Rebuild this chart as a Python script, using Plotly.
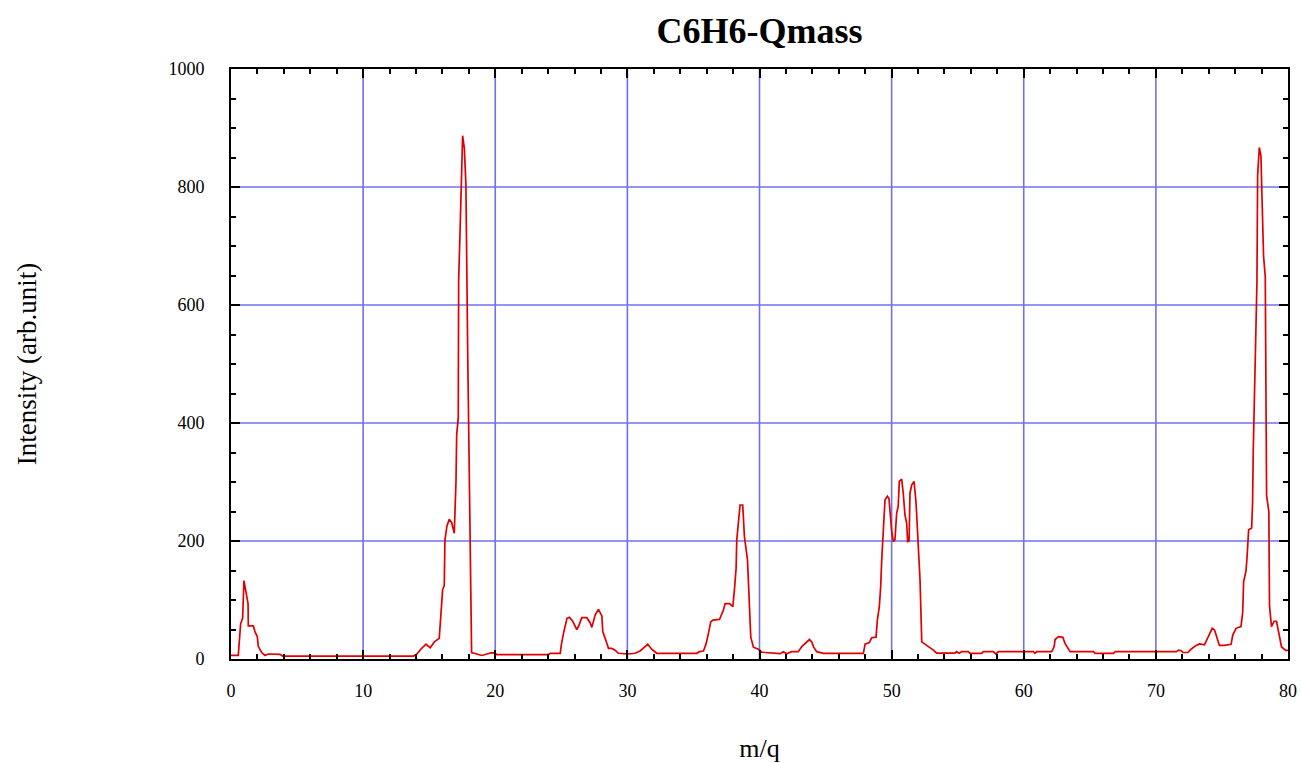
import plotly.graph_objects as go

# m/q values (x) and intensities (arb. unit)
mz = [
    0.0, 0.55, 0.73, 0.88, 0.98, 1.13, 1.29, 1.31, 1.69, 1.82, 1.99, 2.07, 2.32, 2.57, 2.83, 3.71, 3.91,
    13.8, 14.05, 14.38, 14.76, 15.08, 15.39, 15.76, 15.89, 16.02, 16.14, 16.19, 16.34, 16.52, 16.7, 16.9,
    17.03, 17.08, 17.2, 17.23, 17.35, 17.4, 17.53, 17.66, 17.78, 17.91, 18.03, 18.16, 18.21, 18.6, 18.98,
    19.36, 19.74, 20.0, 20.12, 24.03, 24.16, 24.92, 25.0, 25.18, 25.28, 25.43, 25.61, 25.84, 26.17, 26.3,
    26.55, 26.93, 27.18, 27.31, 27.56, 27.81, 28.07, 28.14, 28.32, 28.57, 28.82, 29.07, 29.32, 30.08,
    30.58, 30.96, 31.34, 31.54, 31.84, 32.22, 35.25, 35.45, 35.76, 35.96, 36.13, 36.31, 36.46, 36.97,
    37.27, 37.4, 37.73, 37.98, 38.1, 38.23, 38.28, 38.4, 38.53, 38.73, 38.86, 39.09, 39.24, 39.34, 39.54,
    39.92, 40.17, 41.56, 41.8, 42.06, 42.43, 42.94, 43.2, 43.45, 43.78, 43.96, 44.08, 44.33, 44.84,
    47.86, 47.99, 48.31, 48.49, 48.82, 48.92, 49.07, 49.17, 49.25, 49.38, 49.5, 49.68, 49.8, 49.88,
    50.0, 50.13, 50.25, 50.38, 50.5, 50.58, 50.76, 50.88, 51.01, 51.14, 51.21, 51.32, 51.39, 51.52,
    51.7, 51.85, 52.03, 52.15, 52.28, 52.53, 52.9, 53.16, 53.41, 54.8, 54.92, 55.12, 55.3, 55.8, 55.93,
    56.82, 56.94, 57.7, 57.9, 58.08, 60.73, 60.85, 60.98, 62.12, 62.3, 62.37, 62.63, 62.96, 63.13, 63.51,
    65.28, 65.4, 66.79, 66.92, 71.55, 71.72, 71.92, 72.05, 72.43, 72.68, 73.05, 73.31, 73.68, 73.93,
    74.26, 74.44, 74.69, 74.81, 75.19, 75.69, 75.82, 76.07, 76.44, 76.57, 76.64, 76.82, 76.9, 76.95,
    77.02, 77.25, 77.32, 77.37, 77.45, 77.52, 77.65, 77.7, 77.83, 77.95, 78.1, 78.15, 78.28, 78.38,
    78.55, 78.6, 78.75, 78.95, 79.13, 79.33, 79.51, 79.83, 80.0,
]
intensity = [
    6, 6, 60, 69, 133, 114, 94, 56, 56, 46, 38, 21, 11, 6, 8.5, 8, 5,
    5, 8, 17, 25, 19, 29, 35, 83, 118, 124, 201, 225, 237, 231, 213,
    302, 380, 409, 641, 736, 795, 887, 866, 804, 528, 320, 53, 11, 8.5, 6,
    8.5, 10.7, 9.6, 7.3, 7.3, 9.6, 9.6, 24, 45, 55, 69, 70.6, 65, 50, 55,
    70, 70, 61.5, 53.6, 74.5, 84, 73, 46, 35, 18, 18, 15, 9.7, 8.5,
    9.7, 13.6, 21, 25, 16.5, 9.7, 9.7, 12.4, 13.6, 26, 43, 63, 66, 67,
    83, 94, 94, 88.7, 117, 154, 202, 233, 261, 261, 207, 168, 71, 37, 20,
    16.5, 11.5, 9, 12.4, 9, 12.4, 12.4, 21, 26, 33, 29, 21, 12.4, 9.6,
    9.6, 25, 27.7, 36, 37, 66, 89, 122, 168, 216, 270, 276, 272, 250,
    218, 199, 202, 247, 259, 301, 305, 281, 244, 230, 199, 200, 281, 295,
    301, 264, 168, 134, 29, 25, 20.6, 15, 10, 10, 12.4, 9.6, 12.4, 12.4, 9.6,
    9.6, 12.4, 12.4, 8.5, 12.4, 12.4, 9.6, 12.4, 12.4, 21, 33, 37.8, 36.7, 26, 12.4,
    12.4, 9.6, 9.6, 12.4, 12.4, 15, 14, 11, 11, 17, 23, 25.6, 24, 37,
    52, 49, 31.8, 23, 23, 24.8, 40.5, 52, 55, 78.5, 131, 149, 172, 187,
    219, 222, 266, 353, 441, 528, 639, 820, 867, 853, 744, 683, 648, 277,
    250, 90.6, 55, 64, 64, 43.7, 20.3, 14.5, 14.5,
]

x_ticks = [0, 10, 20, 30, 40, 50, 60, 70, 80]
y_ticks = [0, 200, 400, 600, 800, 1000]

title_text = "C6H6-Qmass"
x_title = "m/q"
y_title = "Intensity (arb.unit)"

SERIF = "Liberation Serif, Times New Roman, serif"
GRID = "#7070ee"

fig = go.Figure()
fig.add_trace(go.Scatter(
    x=mz, y=intensity, mode="lines",
    line=dict(color="#e00000", width=1.7),
    showlegend=False, hoverinfo="x+y",
))

# grid lines in blue, placed at the tick values through the axes' scales
for v in x_ticks[1:-1]:
    fig.add_shape(type="line", xref="x", yref="paper", x0=v, x1=v, y0=0, y1=1,
                  line=dict(color=GRID, width=1.6), layer="below")
for v in y_ticks[1:-1]:
    fig.add_shape(type="line", xref="paper", yref="y", x0=0, x1=1, y0=v, y1=v,
                  line=dict(color=GRID, width=1.6), layer="below")

axis_common = dict(
    showline=True, linecolor="black", linewidth=2, mirror="ticks",
    ticks="inside", ticklen=9, tickwidth=1.5, tickcolor="black",
    showgrid=False, zeroline=False,
    tickfont=dict(family=SERIF, size=18, color="black"),
)

fig.update_xaxes(
    **axis_common,
    range=[0, 80], tickvals=x_ticks, ticktext=[str(v) for v in x_ticks],
    minor=dict(dtick=2, ticks="inside", ticklen=5, tickwidth=1.5, tickcolor="black", showgrid=False),
    ticklabelstandoff=14,
    title=dict(text=x_title, font=dict(family=SERIF, size=26, color="black"), standoff=39),
)
fig.update_yaxes(
    **axis_common,
    range=[0, 1000], tickvals=y_ticks, ticktext=[str(v) for v in y_ticks],
    minor=dict(dtick=50, ticks="inside", ticklen=5, tickwidth=1.5, tickcolor="black", showgrid=False),
    ticklabelstandoff=21,
    title=dict(text=y_title, font=dict(family=SERIF, size=27, color="black"), standoff=124),
)

fig.update_layout(
    width=1301, height=763,
    margin=dict(l=231, r=13, t=69, b=104, autoexpand=False),
    paper_bgcolor="white", plot_bgcolor="white",
    title=dict(text=f"<b>{title_text}</b>", x=(231 + 1288) / 2 / 1301, xanchor="center",
               y=1 - 30 / 763, yanchor="middle", yref="container",
               font=dict(family=SERIF, size=36, color="black")),
)

fig.write_html(
    "out.html",
    config={"displayModeBar": False},
    post_script="document.body.style.margin='0';document.body.style.overflow='hidden';",
)
